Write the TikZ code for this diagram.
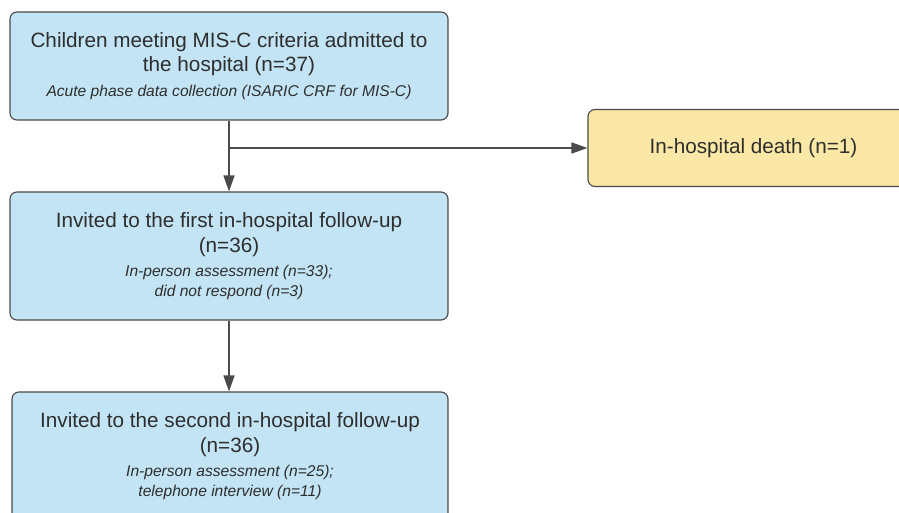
\documentclass[tikz,border=0pt]{standalone}
\usepackage{fontspec}
\setmainfont{Liberation Sans}
\usetikzlibrary{arrows.meta}
\definecolor{boxblue}{HTML}{C2E4F4}
\definecolor{boxyellow}{HTML}{FBE8A6}
\definecolor{linegray}{HTML}{4A4A4A}
\definecolor{textgray}{HTML}{2E2E2E}
\tikzset{>={Triangle[length=16pt,width=11pt]}}
\newcommand{\note}[1]{{\fontsize{15.6}{19.5}\selectfont\itshape #1}}

\begin{document}
\begin{tikzpicture}[x=1pt,y=-1pt,
    stage/.style={draw=linegray,line width=1.1pt,fill=boxblue,rounded corners=7pt,
      minimum width=438pt,align=center,text=textgray,
      font=\fontsize{20.7}{24.5}\selectfont,inner sep=0pt},
    flow/.style={->,draw=linegray,line width=1.5pt}]
  \useasboundingbox (0,0) rectangle (899,513);
  \clip (0,0) rectangle (899,513);
  % stages of the cohort
  \node[stage,minimum height=108pt] (admit) at (229,66)
    {Children meeting MIS-C criteria admitted to\\the hospital (n=37)\\
     \note{Acute phase data collection (ISARIC CRF for MIS-C)}};
  \node[stage,minimum height=128pt] (first) at (229,256)
    {Invited to the first in-hospital follow-up\\(n=36)\\
     \note{In-person assessment (n=33);}\\[-5pt]\note{did not respond (n=3)}};
  \node[stage,minimum height=128pt,minimum width=436pt] (second) at (230,456)
    {Invited to the second in-hospital follow-up\\(n=36)\\
     \note{In-person assessment (n=25);}\\[-5pt]\note{telephone interview (n=11)}};
  \node[stage,fill=boxyellow,minimum width=331pt,minimum height=77pt] (death) at (753.5,148)
    {In-hospital death (n=1)};
  % connectors
  \coordinate (split) at (admit.south |- death.west);
  \draw[flow] (admit.south) -- (first.north);
  \draw[flow] (split) -- (death.west);
  \draw[flow] (first.south) -- (first.south |- second.north);
\end{tikzpicture}
\end{document}
